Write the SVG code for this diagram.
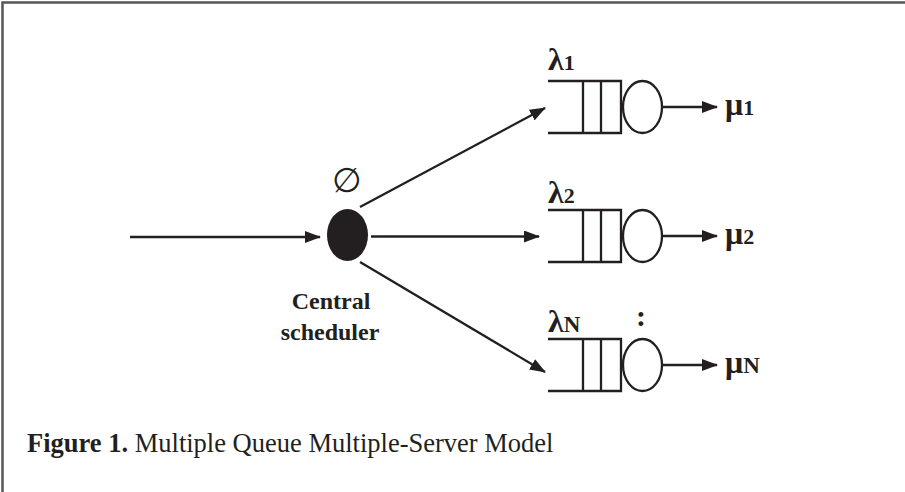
<svg xmlns="http://www.w3.org/2000/svg" width="905" height="492" viewBox="0 0 905 492">
<defs>
<marker id="ah" markerWidth="16" markerHeight="12" refX="15" refY="6" orient="auto" markerUnits="userSpaceOnUse">
<path d="M0,0 L16,6 L0,12 Z" fill="#231f20"/>
</marker>
<style>
.ln{stroke:#231f20;stroke-width:2.3;fill:none}
.q{stroke:#231f20;stroke-width:2.3;fill:none}
.t{font-family:"Liberation Serif","Times New Roman",serif;fill:#231f20}
.b{font-weight:bold}
.g{font-size:32px}
.s{font-size:22px}
.n{font-size:23px}
</style>
</defs>
<rect width="905" height="492" fill="#fff"/>
<path d="M2.5,492 V2.5 H905" fill="none" stroke="#555" stroke-width="2.5"/>

<g id="connectors">
<line class="ln" x1="130" y1="237" x2="320" y2="237" marker-end="url(#ah)"/>
<line class="ln" x1="360" y1="207" x2="545" y2="108" marker-end="url(#ah)"/>
<line class="ln" x1="371" y1="236.5" x2="539" y2="236.5" marker-end="url(#ah)"/>
<line class="ln" x1="360" y1="262" x2="545" y2="372" marker-end="url(#ah)"/>
<line class="ln" x1="662" y1="107" x2="717" y2="107" marker-end="url(#ah)"/>
<line class="ln" x1="662" y1="236" x2="717" y2="236" marker-end="url(#ah)"/>
<line class="ln" x1="662" y1="365" x2="717" y2="365" marker-end="url(#ah)"/>
</g>

<g id="scheduler">
<ellipse cx="347.5" cy="235" rx="20.5" ry="26" fill="#231f20"/>
<text class="t" x="347" y="192" font-size="34" text-anchor="middle" font-family="DejaVu Serif">∅</text>
<text class="t b" x="331" y="309" font-size="24" text-anchor="middle">Central</text>
<text class="t b" x="330" y="340" font-size="24" text-anchor="middle">scheduler</text>
</g>

<g id="queue1">
<path class="q" d="M548,81 H621 V133 H548 M583,81 V133 M601,81 V133"/>
<ellipse class="q" cx="642.5" cy="107" rx="19.5" ry="26"/>
<text class="t b" x="548" y="70"><tspan class="g">λ</tspan><tspan class="s">1</tspan></text>
<text class="t b" x="725" y="115"><tspan class="g">μ</tspan><tspan class="s">1</tspan></text>
</g>

<g id="queue2">
<path class="q" d="M548,210 H621 V262 H548 M583,210 V262 M601,210 V262"/>
<ellipse class="q" cx="642.5" cy="236" rx="19.5" ry="26"/>
<text class="t b" x="548" y="203"><tspan class="g">λ</tspan><tspan class="s">2</tspan></text>
<text class="t b" x="725" y="244"><tspan class="g">μ</tspan><tspan class="s">2</tspan></text>
</g>

<g id="queueN">
<path class="q" d="M548,339 H621 V391 H548 M583,339 V391 M601,339 V391"/>
<ellipse class="q" cx="642.5" cy="365" rx="19.5" ry="26"/>
<text class="t b" x="548" y="332"><tspan class="g">λ</tspan><tspan class="n">N</tspan></text>
<text class="t b" x="725" y="373"><tspan class="g">μ</tspan><tspan class="n">N</tspan></text>
<text class="t b" x="641" y="326" font-size="30" text-anchor="middle">:</text>
</g>

<g id="caption">
<text class="t" x="27" y="452" font-size="26.5"><tspan class="b">Figure 1.</tspan> Multiple Queue Multiple-Server Model</text>
</g>
</svg>
